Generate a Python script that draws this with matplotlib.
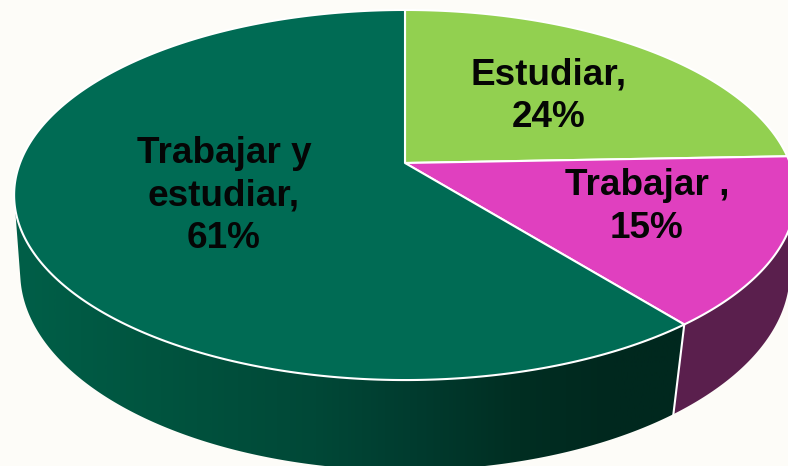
#!/usr/bin/env python3

import numpy as np
import matplotlib
matplotlib.use('Agg')
import matplotlib.pyplot as plt
from matplotlib.colors import LinearSegmentedColormap
from matplotlib.patches import Polygon

labels = ['Estudiar,\n24%', 'Trabajar ,\n15%', 'Trabajar y\nestudiar,\n61%']
values = [24.4, 14.8, 60.8]
top_colors = ['#92D050', '#E040BF', '#006B54']
label_pos = [(549, 96), (647, 207), (224, 196)]

W, H = 788, 466
bg = '#FDFCF8'

# perspective of the top disc and of the bottom rim (pixels)
top_view = dict(cx=405, cy=163, R=385, a=179.5, k=0.173)
bottom_view = dict(cx=405, cy=244.4, R=381, a=194.3, k=0.14)


def project(theta, view):
    # theta in degrees, clockwise from the back of the pie
    t = np.radians(theta)
    u, v = np.sin(t), np.cos(t)
    d = 1 + view['k'] * v
    return np.column_stack((view['cx'] + view['R'] * u / d,
                            view['cy'] - view['a'] * v / d))


def arc(t0, t1, view):
    n = max(int(abs(t1 - t0)) * 2, 2)
    return project(np.linspace(t0, t1, n), view)


fig = plt.figure(figsize=(W / 100, H / 100), dpi=100, facecolor=bg)
ax = fig.add_axes([0, 0, 1, 1])
ax.set_facecolor(bg)
ax.axis('off')

edges = np.cumsum([0] + values) * 360 / sum(values)

# side wall, only the front of the rim can be seen
t_right, t_left = 100, 260
green_grad = LinearSegmentedColormap.from_list('wall', [
    (0.0, '#006049'), (0.2, '#00543F'), (0.4, '#004837'),
    (0.52, '#003C2F'), (0.66, '#002E22'), (0.78, '#00281E'), (1.0, '#00281E')])

wall_green = np.vstack((arc(edges[2], t_left, top_view), arc(t_left, edges[2], bottom_view)))
wall_purple = np.vstack((arc(t_right, edges[2], top_view), arc(edges[2], t_right, bottom_view)))

patch = Polygon(wall_green, closed=True, fc='none', ec='none')
ax.add_patch(patch)
im = ax.imshow(np.linspace(0, 1, 400)[None, :], extent=(0, W, H, 0), aspect='auto',
               cmap=green_grad, vmin=0, vmax=1, zorder=1)
im.set_clip_path(patch)
ax.add_patch(Polygon(wall_purple, closed=True, fc='#5A1F4D', ec='none', zorder=1))

# white seam between the green and the purple wall
seam = np.vstack((project(edges[2], top_view), project(edges[2], bottom_view)))
ax.plot(seam[:, 0], seam[:, 1], color='white', lw=1.5, zorder=2)

# top of the pie
apex = (top_view['cx'], top_view['cy'])
for i in range(len(values)):
    pts = np.vstack(([apex], arc(edges[i], edges[i + 1], top_view)))
    ax.add_patch(Polygon(pts, closed=True, fc=top_colors[i], ec='white', lw=1.5,
                         joinstyle='round', zorder=3))

for lab, (x, y) in zip(labels, label_pos):
    ax.text(x, y, lab, ha='center', va='center', ma='center', fontsize=26.6,
            family='Liberation Sans', fontweight='bold', color='#050505',
            linespacing=1.27, zorder=4)

ax.set_xlim(0, W)
ax.set_ylim(H, 0)
fig.savefig('out.png', dpi=100, facecolor=bg)
